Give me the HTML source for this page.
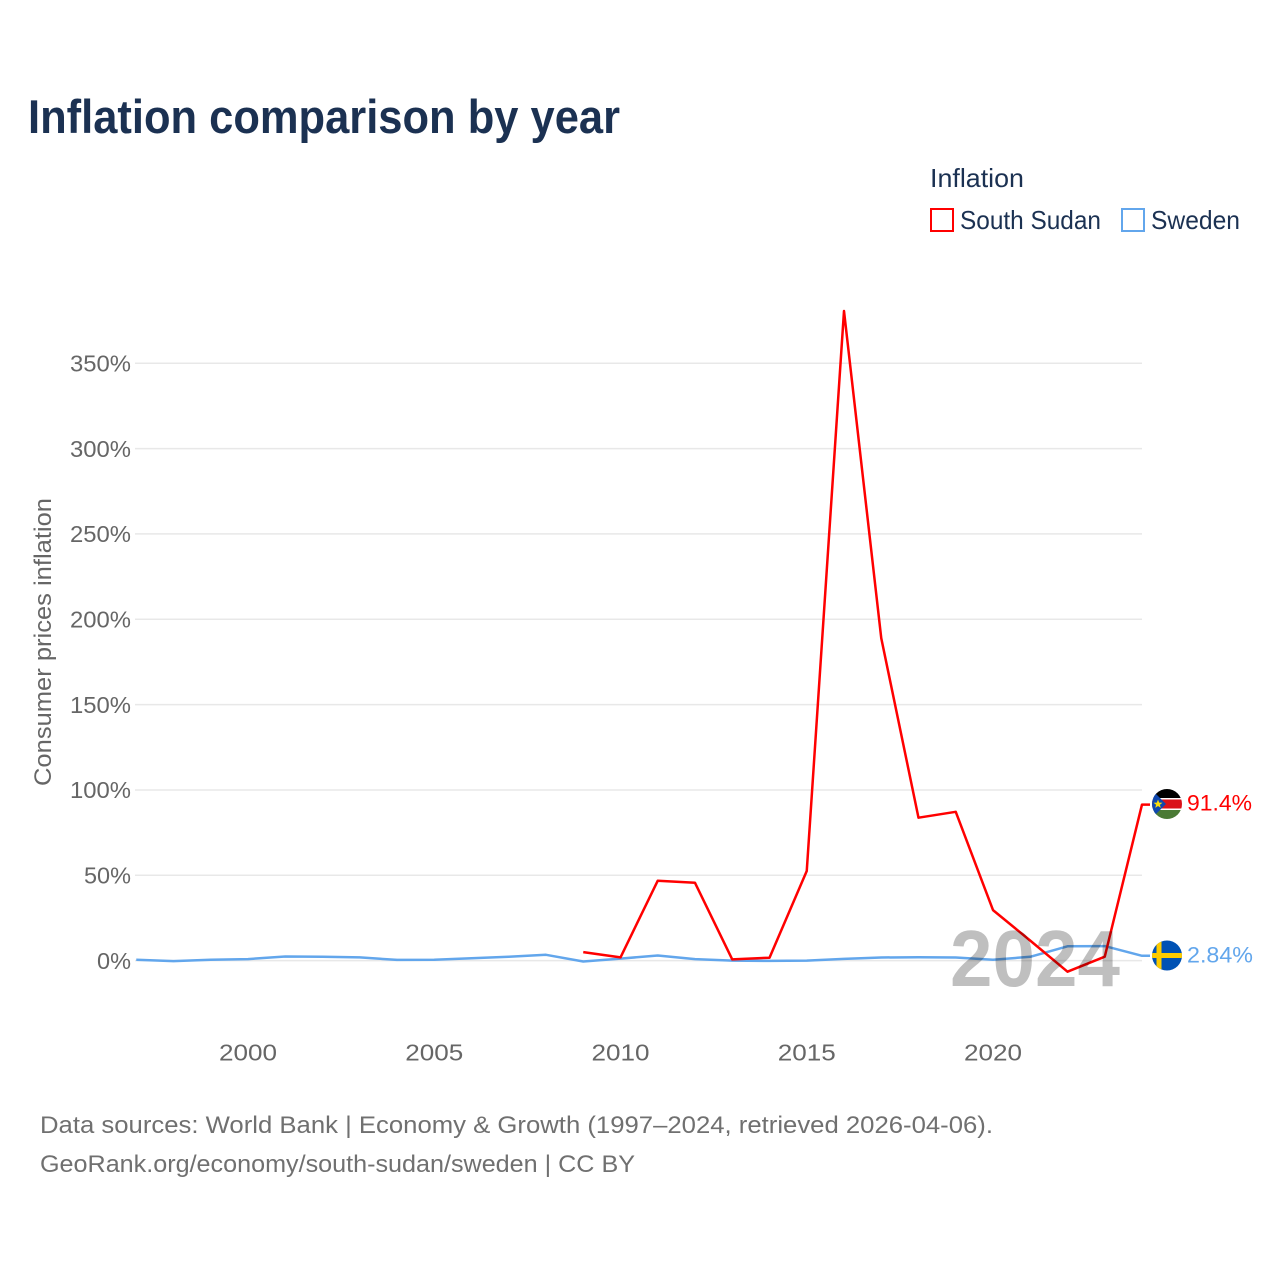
<!DOCTYPE html>
<html>
<head>
<meta charset="utf-8">
<style>
  html,body{margin:0;padding:0;background:#fff;}
  svg{display:block;}
  text{font-family:"Liberation Sans", sans-serif;}
</style>
</head>
<body>
<svg width="1280" height="1280" viewBox="0 0 1280 1280" xmlns="http://www.w3.org/2000/svg">
  <rect width="1280" height="1280" fill="#fff"/>
  <!-- Title -->
  <text x="28" y="133" font-size="47" font-weight="bold" fill="#1b3152" textLength="592" lengthAdjust="spacingAndGlyphs">Inflation comparison by year</text>

  <!-- Legend -->
  <text x="930" y="187" font-size="26" fill="#1b3152" textLength="94" lengthAdjust="spacingAndGlyphs">Inflation</text>
  <rect x="931" y="209" width="22" height="22" fill="none" stroke="#ff0000" stroke-width="2"/>
  <text x="960" y="229" font-size="26" fill="#1b3152" textLength="141" lengthAdjust="spacingAndGlyphs">South Sudan</text>
  <rect x="1122" y="209" width="22" height="22" fill="none" stroke="#62a6ec" stroke-width="2"/>
  <text x="1151" y="229" font-size="26" fill="#1b3152" textLength="89" lengthAdjust="spacingAndGlyphs">Sweden</text>

  <!-- Gridlines -->
  <g stroke="#e8e8e8" stroke-width="1.5">
    <line x1="135" y1="363.3" x2="1142" y2="363.3"/>
    <line x1="135" y1="448.6" x2="1142" y2="448.6"/>
    <line x1="135" y1="533.9" x2="1142" y2="533.9"/>
    <line x1="135" y1="619.3" x2="1142" y2="619.3"/>
    <line x1="135" y1="704.6" x2="1142" y2="704.6"/>
    <line x1="135" y1="790" x2="1142" y2="790"/>
    <line x1="135" y1="875.3" x2="1142" y2="875.3"/>
    <line x1="135" y1="960.6" x2="1142" y2="960.6"/>
  </g>

  <!-- Y tick labels -->
  <g font-size="23" fill="#666" text-anchor="end">
    <text x="131" y="371.5" textLength="61" lengthAdjust="spacingAndGlyphs">350%</text>
    <text x="131" y="456.8" textLength="61" lengthAdjust="spacingAndGlyphs">300%</text>
    <text x="131" y="542.1" textLength="61" lengthAdjust="spacingAndGlyphs">250%</text>
    <text x="131" y="627.5" textLength="61" lengthAdjust="spacingAndGlyphs">200%</text>
    <text x="131" y="712.8" textLength="61" lengthAdjust="spacingAndGlyphs">150%</text>
    <text x="131" y="798.2" textLength="61" lengthAdjust="spacingAndGlyphs">100%</text>
    <text x="131" y="883.5" textLength="47" lengthAdjust="spacingAndGlyphs">50%</text>
    <text x="131" y="968.8" textLength="34" lengthAdjust="spacingAndGlyphs">0%</text>
  </g>

  <!-- Y axis title -->
  <text transform="translate(51,642) rotate(-90)" font-size="24" fill="#666" text-anchor="middle" textLength="288" lengthAdjust="spacingAndGlyphs">Consumer prices inflation</text>

  <!-- X tick labels -->
  <g font-size="23" fill="#666" text-anchor="middle">
    <text x="248" y="1060.5" textLength="58" lengthAdjust="spacingAndGlyphs">2000</text>
    <text x="434.25" y="1060.5" textLength="58" lengthAdjust="spacingAndGlyphs">2005</text>
    <text x="620.5" y="1060.5" textLength="58" lengthAdjust="spacingAndGlyphs">2010</text>
    <text x="806.75" y="1060.5" textLength="58" lengthAdjust="spacingAndGlyphs">2015</text>
    <text x="993" y="1060.5" textLength="58" lengthAdjust="spacingAndGlyphs">2020</text>
  </g>

  <!-- Sweden line -->
  <polyline fill="none" stroke="#62a6ec" stroke-width="2.5" stroke-linejoin="round"
    points="136.25,959.7 173.5,961.1 210.75,959.7 248,959.1 285.25,956.5 322.5,956.8 359.75,957.4 397,959.9 434.25,959.7 471.5,958.2 508.75,956.8 546,954.8 583.25,961.5 620.5,958.6 657.75,955.5 695,959.1 732.25,960.6 769.5,960.9 806.75,960.6 844,958.9 881.25,957.5 918.5,957.2 955.75,957.5 993,959.7 1030.25,956.8 1067.5,946.3 1104.75,946.1 1142,955.8 1150,955.8"/>

  <!-- South Sudan line -->
  <polyline fill="none" stroke="#ff0000" stroke-width="2.5" stroke-linejoin="round"
    points="583.25,952.1 620.5,957.4 657.75,880.7 695,882.8 732.25,959.4 769.5,957.7 806.75,871 844,311 881.25,638.1 918.5,817.7 955.75,811.8 993,910.1 1030.25,940.6 1067.5,971.7 1104.75,956.7 1142,804.6 1150,804.6"/>

  <defs>
    <clipPath id="cSS"><circle cx="1167" cy="804" r="15"/></clipPath>
    <clipPath id="cSE"><circle cx="1167" cy="955.5" r="15"/></clipPath>
  </defs>

  <!-- South Sudan flag -->
  <g clip-path="url(#cSS)">
    <rect x="1150" y="788" width="34" height="32" fill="#fff"/>
    <rect x="1150" y="788" width="34" height="10" fill="#000"/>
    <rect x="1150" y="799.5" width="34" height="9" fill="#da121a"/>
    <rect x="1150" y="810" width="34" height="10" fill="#4a7a35"/>
    <polygon points="1150,788 1166,804 1150,820" fill="#0f47af"/>
    <polygon points="1158,799.5 1159.2,802.6 1162.5,802.7 1159.9,804.7 1160.8,807.9 1158,806 1155.2,807.9 1156.1,804.7 1153.5,802.7 1156.8,802.6" fill="#fcdd09"/>
  </g>

  <!-- Sweden flag -->
  <g clip-path="url(#cSE)">
    <rect x="1150" y="939" width="34" height="33" fill="#0052b4"/>
    <rect x="1156.5" y="939" width="5" height="33" fill="#fecc00"/>
    <rect x="1150" y="953" width="34" height="5" fill="#fecc00"/>
  </g>

  <!-- End labels -->
  <text x="1187" y="810.7" font-size="22" fill="#ff0000" textLength="65" lengthAdjust="spacingAndGlyphs">91.4%</text>
  <text x="1187" y="962.7" font-size="22" fill="#62a6ec" textLength="66" lengthAdjust="spacingAndGlyphs">2.84%</text>

  <!-- Year watermark -->
  <text x="950" y="986" font-size="80" font-weight="bold" fill="#000" fill-opacity="0.25" textLength="170" lengthAdjust="spacingAndGlyphs">2024</text>

  <!-- Footer -->
  <text x="40" y="1133" font-size="24" fill="#707070" textLength="953" lengthAdjust="spacingAndGlyphs">Data sources: World Bank | Economy &amp; Growth (1997–2024, retrieved 2026-04-06).</text>
  <text x="40" y="1172" font-size="24" fill="#707070" textLength="595" lengthAdjust="spacingAndGlyphs">GeoRank.org/economy/south-sudan/sweden | CC BY</text>
</svg>
</body>
</html>
